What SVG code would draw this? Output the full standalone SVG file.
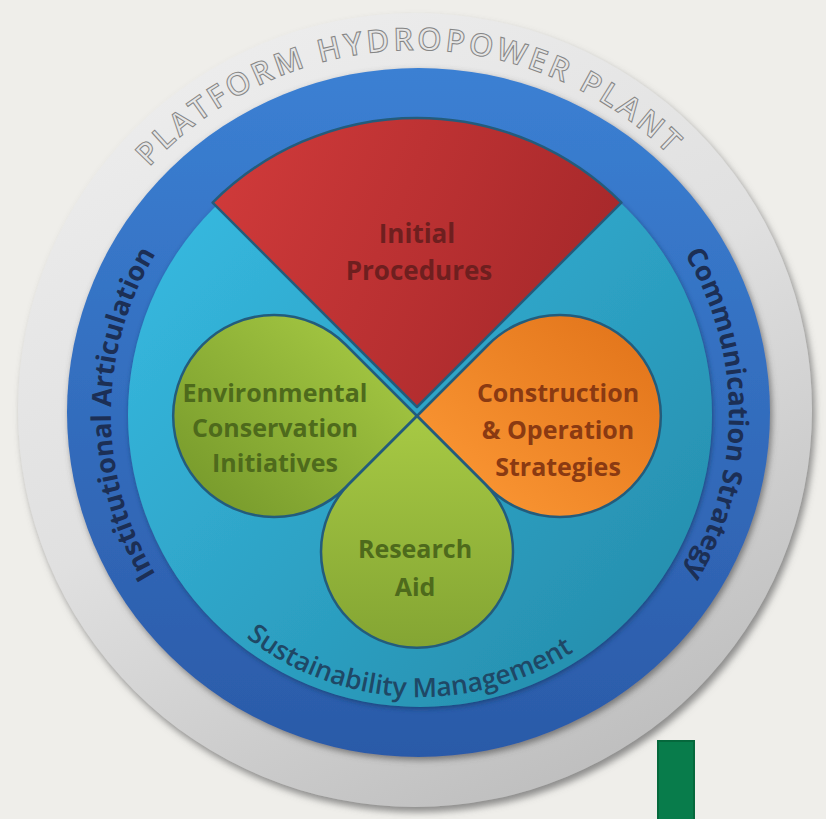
<svg xmlns="http://www.w3.org/2000/svg" width="826" height="819" viewBox="0 0 826 819">
  <defs>
    <style>
      .lbl { font-family: "Open Sans", "Liberation Sans", sans-serif; font-weight: 700; font-size: 25px; text-anchor: middle; }
      .red-t { fill: #6e1f1f; font-size: 26px; }
      .grn-t { fill: #4e6a1c; }
      .org-t { fill: #8a3a12; }
      .ring-t { font-family: "Open Sans", "Liberation Sans", sans-serif; font-weight: 700; font-size: 27px; fill: #1c2f55; text-anchor: middle; }
      .sus-t { fill: #1f4866; font-weight: 600; font-size: 26.5px; }
      .top-t { font-family: "Open Sans", "Liberation Sans", sans-serif; font-weight: 600; font-size: 31px; fill: #e6e6e6; stroke: #858585; stroke-width: 1; letter-spacing: 3.5px; text-anchor: middle; }
      .petal { stroke: #235c7c; stroke-width: 2.5; stroke-linejoin: round; }
    </style>
    <linearGradient id="gGrey" x1="0.2" y1="0" x2="0.7" y2="1">
      <stop offset="0" stop-color="#eeeeee"/>
      <stop offset="0.5" stop-color="#e0e0e0"/>
      <stop offset="1" stop-color="#bdbdbd"/>
    </linearGradient>
    <linearGradient id="gBlue" x1="0" y1="0" x2="0" y2="1">
      <stop offset="0" stop-color="#3b80d3"/>
      <stop offset="1" stop-color="#2b5aa8"/>
    </linearGradient>
    <linearGradient id="gCyan" x1="0.1" y1="0.1" x2="0.9" y2="0.9">
      <stop offset="0" stop-color="#36b9e0"/>
      <stop offset="1" stop-color="#268ead"/>
    </linearGradient>
    <linearGradient id="gRed" x1="0" y1="0" x2="1" y2="0.3">
      <stop offset="0" stop-color="#d23b3b"/>
      <stop offset="1" stop-color="#a8292b"/>
    </linearGradient>
    <linearGradient id="gGreenL" x1="0.9" y1="0.1" x2="0.1" y2="0.9">
      <stop offset="0" stop-color="#a6c943"/>
      <stop offset="1" stop-color="#789b2c"/>
    </linearGradient>
    <linearGradient id="gGreenB" x1="0.5" y1="0" x2="0.5" y2="1">
      <stop offset="0" stop-color="#a7c944"/>
      <stop offset="1" stop-color="#84a533"/>
    </linearGradient>
    <linearGradient id="gOrange" x1="0.9" y1="0.1" x2="0.1" y2="0.9">
      <stop offset="0" stop-color="#e3761c"/>
      <stop offset="1" stop-color="#fb9734"/>
    </linearGradient>
    <filter id="shGrey" x="-10%" y="-10%" width="120%" height="120%">
      <feDropShadow dx="3" dy="5" stdDeviation="3.5" flood-color="#6a6a6a" flood-opacity="0.75"/>
    </filter>
    <filter id="shBlue" x="-10%" y="-10%" width="120%" height="120%">
      <feDropShadow dx="2" dy="3" stdDeviation="3" flood-color="#555555" flood-opacity="0.7"/>
    </filter>
    <filter id="shCyan" x="-10%" y="-10%" width="120%" height="120%">
      <feDropShadow dx="1" dy="2" stdDeviation="2.5" flood-color="#1a3f70" flood-opacity="0.8"/>
    </filter>
    <path id="arcTop" d="M55,410 A360,360 0 0 1 775,410"/>
    <path id="arcLeft" d="M420,723 A309,309 0 0 1 420,105"/>
    <path id="arcRight" d="M420,105 A309,309 0 0 1 420,723"/>
    <path id="arcBottom" d="M137,414 A283,283 0 0 0 703,414"/>
  </defs>

  <rect x="0" y="0" width="826" height="819" fill="#efeeea"/>

  <g id="ring-platform">
    <circle cx="415" cy="410" r="397" fill="url(#gGrey)" filter="url(#shGrey)"/>
    <text class="top-t"><textPath href="#arcTop" startOffset="558">PLATFORM HYDROPOWER PLANT</textPath></text>
  </g>

  <g id="ring-management">
    <ellipse cx="418.5" cy="412.5" rx="351.5" ry="344.5" fill="url(#gBlue)" filter="url(#shBlue)"/>
    <text class="ring-t"><textPath href="#arcLeft" startOffset="50%">Institutional Articulation</textPath></text>
    <text class="ring-t"><textPath href="#arcRight" startOffset="50%">Communication Strategy</textPath></text>
  </g>

  <g id="core">
    <circle cx="420" cy="415" r="292" fill="url(#gCyan)" filter="url(#shCyan)"/>
    <text class="ring-t sus-t"><textPath href="#arcBottom" startOffset="432">Sustainability Management</textPath></text>
  </g>

  <g id="node-initial-procedures">
    <path class="petal" d="M417,407 L212.6,202.6 A289,289 0 0 1 621.4,202.6 Z" fill="url(#gRed)"/>
    <text class="lbl red-t" x="417" y="243">Initial</text>
    <text class="lbl red-t" x="419" y="280">Procedures</text>
  </g>

  <g id="node-environmental">
    <path class="petal" d="M417,416 L345.5,344.5 A101,101 0 1 0 345.5,487.5 Z" fill="url(#gGreenL)"/>
    <text class="lbl grn-t" x="275" y="402">Environmental</text>
    <text class="lbl grn-t" x="275" y="437">Conservation</text>
    <text class="lbl grn-t" x="275" y="472">Initiatives</text>
  </g>

  <g id="node-construction">
    <path class="petal" d="M417,416 L488.5,344.5 A101,101 0 1 1 488.5,487.5 Z" fill="url(#gOrange)"/>
    <text class="lbl org-t" x="558" y="402">Construction</text>
    <text class="lbl org-t" x="558" y="439">&amp; Operation</text>
    <text class="lbl org-t" x="558" y="476">Strategies</text>
  </g>

  <g id="node-research">
    <path class="petal" d="M417,416 L349,484 A96,96 0 1 0 485,484 Z" fill="url(#gGreenB)"/>
    <text class="lbl grn-t" x="415" y="558">Research</text>
    <text class="lbl grn-t" x="415" y="596">Aid</text>
  </g>

  <g id="green-bar">
    <rect x="658" y="741" width="36" height="82" fill="#087c4b" stroke="#05683c" stroke-width="2"/>
  </g>
</svg>
